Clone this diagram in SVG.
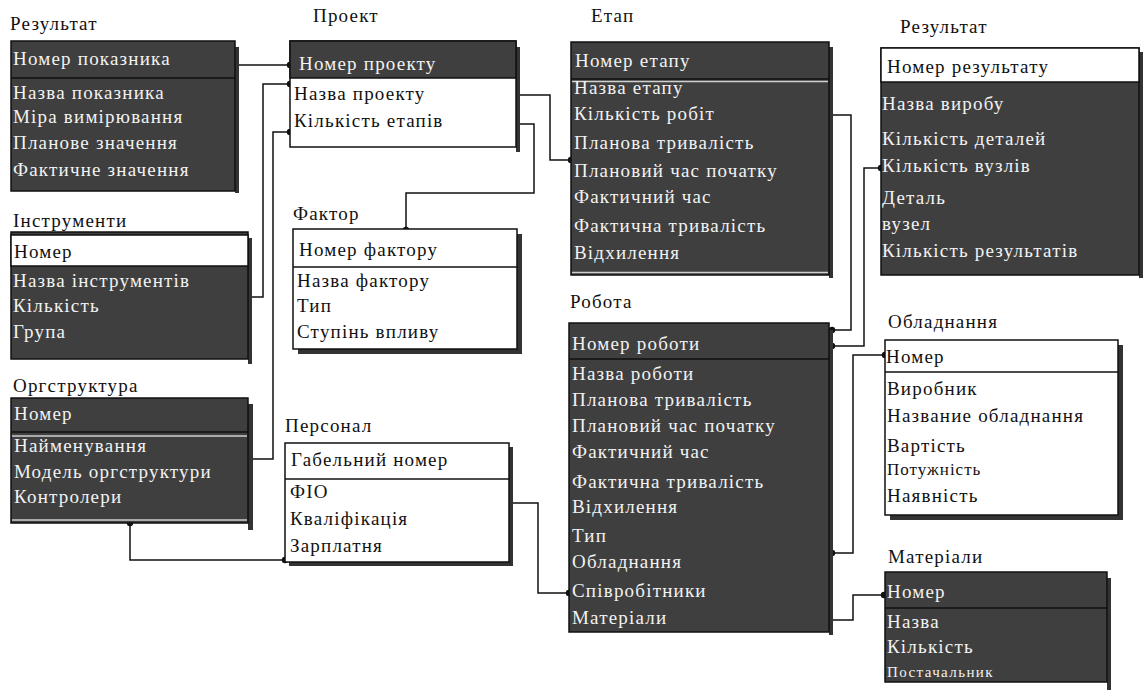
<svg xmlns="http://www.w3.org/2000/svg" width="1144" height="695" viewBox="0 0 1144 695">
  <style>
    .dk { fill:#3f3f3f; stroke:#111; stroke-width:1.5 }
    .wt { fill:#fff; stroke:#111; stroke-width:1.5 }
    .sh { fill:#333 }
    .sep { stroke:#111; stroke-width:1.5 }
    .hl { stroke:#cfcfcf; stroke-width:1.5 }
    text { font-family:"Liberation Serif","Times New Roman",serif; font-size:19px; letter-spacing:1.2px }
    .ttl { fill:#111 }
    .lt { fill:#f2f2f2 }
    .bk { fill:#111 }
    .sm { font-size:17px; letter-spacing:1px }
    .xs { font-size:15px; letter-spacing:1.4px }
    .cn { fill:none; stroke:#111; stroke-width:1.5 }
    .dot { fill:#111 }
  </style>
  <rect width="1144" height="695" fill="#fff"/>

  <!-- connectors -->
  <g id="connectors">
    <path class="cn" d="M235,65 H290"/>
    <path class="cn" d="M290,84 H263 V297 H248"/>
    <path class="cn" d="M290,132 H273 V459 H248"/>
    <path class="cn" d="M516,95 H550 V160 H571"/>
    <path class="cn" d="M516,124 H534 V193 H406 V230"/>
    <path class="cn" d="M830,115 H851 V330 H832"/>
    <path class="cn" d="M881,168 H864 V346 H832"/>
    <path class="cn" d="M832,553 H853 V355 H885"/>
    <path class="cn" d="M829,620 H853 V595 H884"/>
    <path class="cn" d="M509,503 H538 V593 H569"/>
    <path class="cn" d="M130,523 V560 H285"/>
    <g class="dot">
      <circle cx="235" cy="65" r="3.2"/><circle cx="290" cy="65" r="3.2"/>
      <circle cx="290" cy="84" r="3.2"/><circle cx="248" cy="297" r="3.2"/>
      <circle cx="290" cy="132" r="3.2"/><circle cx="248" cy="459" r="3.2"/>
      <circle cx="516" cy="95" r="3.2"/><circle cx="571" cy="160" r="3.2"/>
      <circle cx="516" cy="124" r="3.2"/><circle cx="406" cy="230" r="3.2"/>
      <circle cx="830" cy="115" r="3.2"/><circle cx="832" cy="330" r="3.2"/>
      <circle cx="881" cy="168" r="3.2"/><circle cx="832" cy="346" r="3.2"/>
      <circle cx="832" cy="553" r="3.2"/><circle cx="885" cy="355" r="3.2"/>
      <circle cx="829" cy="620" r="3.2"/><circle cx="884" cy="595" r="3.2"/>
      <circle cx="509" cy="503" r="3.2"/><circle cx="569" cy="593" r="3.2"/>
      <circle cx="130" cy="523" r="3.2"/><circle cx="285" cy="560" r="3.2"/>
    </g>
  </g>

  <!-- Результат (показники) -->
  <g id="rezultat-pokaznyk">
    <text class="ttl" x="10" y="30">Результат</text>
    <rect class="sh" x="235" y="47" width="4" height="146"/>
    <rect class="dk" x="11" y="41" width="224" height="150"/>
    <line class="sep" x1="11" y1="78" x2="235" y2="78"/>
    <text class="lt" x="13" y="65">Номер показника</text>
    <text class="lt" x="13" y="99">Назва показника</text>
    <text class="lt" x="13" y="123">Міра вимірювання</text>
    <text class="lt" x="13" y="149">Планове значення</text>
    <text class="lt" x="13" y="176">Фактичне значення</text>
  </g>

  <!-- Проект -->
  <g id="proekt">
    <text class="ttl" x="313" y="22">Проект</text>
    <rect class="sh" x="516" y="47" width="4" height="105"/>
    <rect class="wt" x="290" y="41" width="226" height="106"/>
    <rect class="dk" x="290" y="41" width="226" height="37"/>
    <text class="lt" x="299" y="70">Номер проекту</text>
    <text class="bk" x="294" y="100">Назва проекту</text>
    <text class="bk" x="294" y="127">Кількість етапів</text>
  </g>

  <!-- Етап -->
  <g id="etap">
    <text class="ttl" x="591" y="22">Етап</text>
    <rect class="sh" x="829" y="47" width="4" height="231"/>
    <rect class="dk" x="571" y="42" width="258" height="233"/>
    <line class="sep" x1="571" y1="79" x2="829" y2="79"/>
    <line class="hl" x1="572" y1="81.5" x2="828" y2="81.5"/>
    <line class="hl" x1="572" y1="272.5" x2="828" y2="272.5"/>
    <text class="lt" x="575" y="67">Номер етапу</text>
    <text class="lt" x="574" y="94">Назва етапу</text>
    <text class="lt" x="574" y="120">Кількість робіт</text>
    <text class="lt" x="574" y="149">Планова тривалість</text>
    <text class="lt" x="574" y="177">Плановий час початку</text>
    <text class="lt" x="574" y="203">Фактичний час</text>
    <text class="lt" x="574" y="232">Фактична тривалість</text>
    <text class="lt" x="574" y="259">Відхилення</text>
  </g>

  <!-- Результат (вироби) -->
  <g id="rezultat-vyrib">
    <text class="ttl" x="900" y="33">Результат</text>
    <rect class="sh" x="1139" y="52" width="4" height="226"/>
    <rect class="dk" x="881" y="48" width="258" height="227"/>
    <rect class="wt" x="881" y="48" width="258" height="34"/>
    <text class="bk" x="887" y="73">Номер результату</text>
    <text class="lt" x="882" y="110">Назва виробу</text>
    <text class="lt" x="882" y="145">Кількість деталей</text>
    <text class="lt" x="882" y="172">Кількість вузлів</text>
    <text class="lt" x="882" y="204">Деталь</text>
    <text class="lt" x="882" y="230">вузел</text>
    <text class="lt" x="882" y="257">Кількість результатів</text>
  </g>

  <!-- Інструменти -->
  <g id="instrumenty">
    <text class="ttl" x="13" y="227">Інструменти</text>
    <rect class="sh" x="248" y="238" width="4" height="126"/>
    <rect class="dk" x="11" y="232" width="237" height="127"/>
    <rect class="wt" x="11" y="235" width="237" height="31"/>
    <text class="bk" x="14" y="258">Номер</text>
    <text class="lt" x="13" y="287">Назва інструментів</text>
    <text class="lt" x="13" y="312">Кількість</text>
    <text class="lt" x="13" y="338">Група</text>
  </g>

  <!-- Оргструктура -->
  <g id="orgstruktura">
    <text class="ttl" x="13" y="392">Оргструктура</text>
    <rect class="sh" x="248" y="404" width="5" height="126"/>
    <rect class="dk" x="11" y="398" width="237" height="125"/>
    <line class="sep" x1="11" y1="432" x2="248" y2="432"/>
    <line class="hl" x1="12" y1="436" x2="247" y2="436"/>
    <line class="hl" x1="12" y1="520" x2="247" y2="520"/>
    <text class="lt" x="14" y="420">Номер</text>
    <text class="lt" x="14" y="452">Найменування</text>
    <text class="lt" x="14" y="478">Модель оргструктури</text>
    <text class="lt" x="14" y="503">Контролери</text>
  </g>

  <!-- Фактор -->
  <g id="faktor">
    <text class="ttl" x="293" y="220">Фактор</text>
    <rect class="sh" x="298" y="234" width="224" height="120"/>
    <rect class="wt" x="293" y="229" width="224" height="120"/>
    <line class="sep" x1="293" y1="267" x2="517" y2="267"/>
    <text class="bk" x="299" y="256">Номер фактору</text>
    <text class="bk" x="297" y="287">Назва фактору</text>
    <text class="bk" x="297" y="312">Тип</text>
    <text class="bk" x="297" y="338">Ступінь впливу</text>
  </g>

  <!-- Персонал -->
  <g id="personal">
    <text class="ttl" x="285" y="432">Персонал</text>
    <rect class="sh" x="289" y="447" width="224" height="119"/>
    <rect class="wt" x="285" y="443" width="224" height="119"/>
    <line class="sep" x1="285" y1="479" x2="509" y2="479"/>
    <text class="bk" x="291" y="466">Габельний номер</text>
    <text class="bk" x="290" y="498">ФІО</text>
    <text class="bk" x="290" y="525">Кваліфікація</text>
    <text class="bk" x="290" y="552">Зарплатня</text>
  </g>

  <!-- Робота -->
  <g id="robota">
    <text class="ttl" x="570" y="308">Робота</text>
    <rect class="sh" x="829" y="330" width="4" height="305"/>
    <rect class="dk" x="569" y="323" width="260" height="309"/>
    <line class="sep" x1="569" y1="359" x2="829" y2="359"/>
    <text class="lt" x="572" y="350">Номер роботи</text>
    <text class="lt" x="572" y="380">Назва роботи</text>
    <text class="lt" x="572" y="406">Планова тривалість</text>
    <text class="lt" x="572" y="432">Плановий час початку</text>
    <text class="lt" x="572" y="458">Фактичний час</text>
    <text class="lt" x="572" y="488">Фактична тривалість</text>
    <text class="lt" x="572" y="513">Відхилення</text>
    <text class="lt" x="572" y="542">Тип</text>
    <text class="lt" x="572" y="568">Обладнання</text>
    <text class="lt" x="572" y="597">Співробітники</text>
    <text class="lt" x="572" y="624">Матеріали</text>
  </g>

  <!-- Обладнання -->
  <g id="obladnannia">
    <text class="ttl" x="888" y="328">Обладнання</text>
    <rect class="sh" x="890" y="345" width="233" height="175"/>
    <rect class="wt" x="885" y="340" width="233" height="175"/>
    <line class="sep" x1="885" y1="372" x2="1118" y2="372"/>
    <text class="bk" x="886" y="363">Номер</text>
    <text class="bk" x="887" y="395">Виробник</text>
    <text class="bk" x="887" y="422">Название обладнання</text>
    <text class="bk" x="887" y="452">Вартість</text>
    <text class="bk sm" x="887" y="475">Потужність</text>
    <text class="bk" x="887" y="502">Наявність</text>
  </g>

  <!-- Матеріали -->
  <g id="materialy">
    <text class="ttl" x="888" y="563">Матеріали</text>
    <rect class="sh" x="1107" y="578" width="4" height="112"/>
    <rect class="dk" x="885" y="572" width="222" height="110"/>
    <line class="sep" x1="885" y1="608" x2="1107" y2="608"/>
    <text class="lt" x="887" y="598">Номер</text>
    <text class="lt" x="887" y="628">Назва</text>
    <text class="lt" x="887" y="653">Кількість</text>
    <text class="lt xs" x="887" y="677">Постачальник</text>
  </g>
</svg>
